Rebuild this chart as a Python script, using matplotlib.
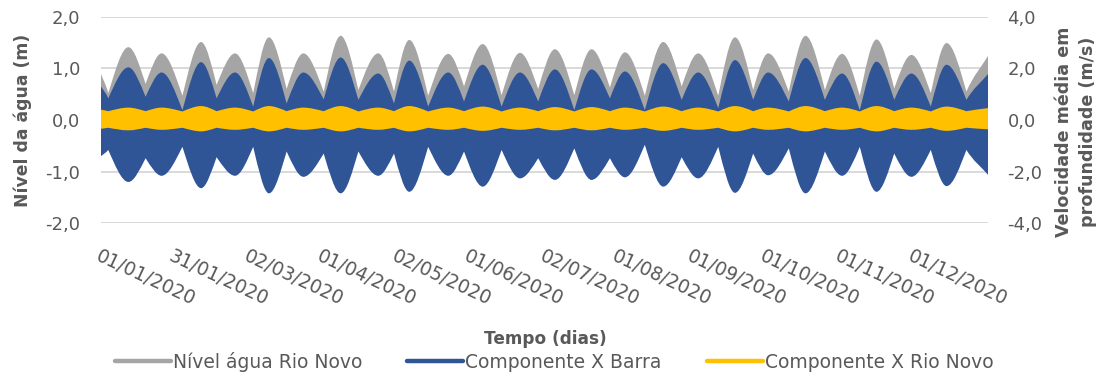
import matplotlib
matplotlib.use("Agg")
import matplotlib.pyplot as plt
from matplotlib.path import Path
from matplotlib.patches import PathPatch
from matplotlib.lines import Line2D

# Envelope of the hourly series (days since 01/01/2020): start, then alternating
# neap/spring turning points of each fortnightly cycle, then the end of the year.
dias = [0.0, 3.0, 11.3, 18.4, 25.0, 33.6, 41.3, 47.7, 55.3, 62.8, 69.3, 76.6, 83.5,
        91.9, 98.9, 106.2, 114.4, 120.9, 127.2, 135.0, 143.3, 149.8, 157.5, 165.3,
        172.9, 180.4, 187.3, 195.3, 202.4, 210.0, 216.2, 224.4, 232.0, 239.6, 246.4,
        254.7, 261.6, 269.1, 275.3, 283.8, 290.7, 298.7, 305.8, 313.1, 320.0, 327.3,
        334.4, 342.4, 348.9, 357.1, 366.0]

# Nível água Rio Novo (m): high-water envelope
nivel_max = [0.89, 0.52, 1.41, 0.70, 1.29, 0.47, 1.51, 0.68, 1.29, 0.52, 1.60, 0.60, 1.29,
             0.55, 1.63, 0.58, 1.29, 0.55, 1.55, 0.47, 1.28, 0.65, 1.47, 0.48, 1.30,
             0.60, 1.37, 0.48, 1.37, 0.63, 1.31, 0.47, 1.51, 0.65, 1.29, 0.47, 1.60,
             0.58, 1.29, 0.55, 1.63, 0.58, 1.28, 0.47, 1.56, 0.61, 1.26, 0.52, 1.49,
             0.55, 1.24]

# Componente X Barra (m/s): flood and ebb envelopes
barra_max = [1.30, 0.84, 2.04, 0.90, 1.84, 0.38, 2.24, 0.84, 1.84, 0.52, 2.40, 0.64, 1.84,
             0.80, 2.42, 0.78, 1.80, 0.64, 2.30, 0.52, 1.84, 0.72, 2.14, 0.52, 1.84,
             0.72, 1.96, 0.38, 1.96, 0.84, 1.88, 0.38, 2.20, 0.78, 1.84, 0.46, 2.32,
             0.78, 1.84, 0.72, 2.40, 0.78, 1.80, 0.38, 2.26, 0.78, 1.80, 0.52, 2.14,
             0.78, 1.78]
barra_min = [-1.40, -1.16, -2.40, -1.48, -2.16, -1.04, -2.64, -1.44, -2.16, -1.04, -2.84,
             -1.22, -2.20, -1.30, -2.84, -1.22, -2.16, -1.30, -2.78, -1.04, -2.16, -1.22,
             -2.58, -1.16, -2.26, -1.48, -2.32, -1.10, -2.32, -1.48, -2.22, -0.96, -2.58,
             -1.44, -2.26, -1.04, -2.82, -1.30, -2.14, -1.10, -2.84, -1.22, -2.16, -1.04,
             -2.78, -1.30, -2.20, -1.16, -2.56, -1.16, -2.12]

# Componente X Rio Novo (m/s): flood and ebb envelopes
rionovo_max = [0.40, 0.34, 0.48, 0.34, 0.48, 0.33, 0.54, 0.34, 0.48, 0.33, 0.54, 0.34, 0.48,
               0.34, 0.54, 0.33, 0.48, 0.34, 0.54, 0.33, 0.48, 0.34, 0.52, 0.33, 0.48,
               0.34, 0.50, 0.33, 0.50, 0.34, 0.48, 0.33, 0.52, 0.34, 0.48, 0.33, 0.54,
               0.34, 0.48, 0.33, 0.54, 0.34, 0.48, 0.33, 0.54, 0.34, 0.48, 0.33, 0.52,
               0.34, 0.46]
rionovo_min = [-0.34, -0.30, -0.40, -0.30, -0.38, -0.30, -0.44, -0.30, -0.38, -0.30, -0.44,
               -0.30, -0.38, -0.30, -0.44, -0.30, -0.38, -0.30, -0.44, -0.30, -0.38, -0.30,
               -0.42, -0.30, -0.38, -0.30, -0.40, -0.30, -0.40, -0.30, -0.38, -0.30, -0.42,
               -0.30, -0.38, -0.30, -0.44, -0.30, -0.38, -0.30, -0.44, -0.30, -0.38, -0.30,
               -0.44, -0.30, -0.38, -0.30, -0.42, -0.30, -0.36]

tick_dias = [0, 30, 61, 91, 122, 152, 183, 213, 244, 274, 305, 335]
tick_datas = ["01/01/2020", "31/01/2020", "02/03/2020", "01/04/2020", "02/05/2020",
              "01/06/2020", "02/07/2020", "01/08/2020", "01/09/2020", "01/10/2020",
              "01/11/2020", "01/12/2020"]
ticks_nivel = [-2, -1, 0, 1, 2]
ticks_vel = [-4, -2, 0, 2, 4]

CINZA = "#A5A5A5"
AZUL = "#2F5597"
AMARELO = "#FFC000"
TEXTO = "#595959"
GRADE = "#D9D9D9"

plt.rcParams["font.family"] = ["DejaVu Sans"]


def _curva(xs, ys):
    """Smooth cubic segments through the envelope nodes: rounded at the outer
    (spring) extremes, pointed at the inner (neap) ones."""
    n = len(xs)

    def tipo(i):
        if i == 0 or i == n - 1:
            return "ponta"
        a, b, c = abs(ys[i - 1]), abs(ys[i]), abs(ys[i + 1])
        if b >= a and b >= c:
            return "externo"
        if b <= a and b <= c:
            return "interno"
        return "meio"

    verts, codes = [], []
    for i in range(n - 1):
        x0, y0, x1, y1 = xs[i], ys[i], xs[i + 1], ys[i + 1]
        dx = x1 - x0
        m = (y1 - y0) / dx

        def tang(k):
            t = tipo(k)
            if t == "externo":
                return 0.0
            if t == "interno":
                return 1.4 * m
            return m

        verts += [(x0 + dx / 3, y0 + tang(i) * dx / 3),
                  (x1 - dx / 3, y1 - tang(i + 1) * dx / 3),
                  (x1, y1)]
        codes += [Path.CURVE4] * 3
    return verts, codes


def faixa(xs, topo, base):
    verts = [(xs[0], topo[0])]
    codes = [Path.MOVETO]
    v, c = _curva(xs, topo)
    verts += v
    codes += c
    if isinstance(base, (int, float)):
        verts += [(xs[-1], base), (xs[0], base)]
        codes += [Path.LINETO, Path.LINETO]
    else:
        rx, rb = xs[::-1], base[::-1]
        verts.append((rx[0], rb[0]))
        codes.append(Path.LINETO)
        v, c = _curva(rx, rb)
        verts += v
        codes += c
    verts.append(verts[0])
    codes.append(Path.CLOSEPOLY)
    return Path(verts, codes)


W, H = 1105, 374
fig = plt.figure(figsize=(W / 100, H / 100), dpi=100)
x0, x1, y_top, y_bot = 101, 988, 16.7, 223.3
ax = fig.add_axes([x0 / W, 1 - y_bot / H, (x1 - x0) / W, (y_bot - y_top) / H])
ax2 = ax.twinx()

# water level (left axis), filled from its high-water envelope down to datum
ax.add_patch(PathPatch(faixa(dias, nivel_max, 0.0), facecolor=CINZA, edgecolor="none"))
# velocities (right axis)
ax2.add_patch(PathPatch(faixa(dias, barra_max, barra_min), facecolor=AZUL, edgecolor="none"))
ax2.add_patch(PathPatch(faixa(dias, rionovo_max, rionovo_min), facecolor=AMARELO, edgecolor="none"))

ax.set_xlim(0, 366)
ax.set_ylim(-2, 2)
ax2.set_ylim(-4, 4)

ax.set_yticks(ticks_nivel)
ax.set_yticklabels([f"{v:.1f}".replace(".", ",") for v in ticks_nivel])
ax2.set_yticks(ticks_vel)
ax2.set_yticklabels([f"{v:.1f}".replace(".", ",") for v in ticks_vel])
ax.set_xticks(tick_dias)
ax.set_xticklabels(tick_datas)

ax.grid(axis="y", color=GRADE, linewidth=1.4)
ax.set_axisbelow(True)
for a in (ax, ax2):
    for s in a.spines.values():
        s.set_visible(False)

ax.tick_params(axis="y", length=0, pad=15, labelsize=13, labelcolor=TEXTO)
ax2.tick_params(axis="y", length=0, pad=14, labelsize=13, labelcolor=TEXTO)
ax.tick_params(axis="x", length=0, pad=17, labelsize=13.4, labelcolor=TEXTO)
for lab in ax.get_xticklabels():
    lab.set_rotation(-25)
    lab.set_rotation_mode("anchor")
    lab.set_ha("left")
    lab.set_va("top")

ax.set_ylabel("Nível da água (m)", fontsize=12.4, fontweight="bold", color=TEXTO)
ax.yaxis.label.set_va("center")
ax.yaxis.set_label_coords((23 - x0) / (x1 - x0), 0.5)
ax2.set_ylabel("Velocidade média em\nprofundidade (m/s)", fontsize=12.6,
               fontweight="bold", color=TEXTO, rotation=90, linespacing=1.45)
ax2.yaxis.label.set_va("center")
ax2.yaxis.label.set_ha("center")
ax2.yaxis.set_label_coords((1076 - x0) / (x1 - x0), (y_bot - 132) / (y_bot - y_top))
ax.set_xlabel("Tempo (dias)", fontsize=12.2, fontweight="bold", color=TEXTO)
ax.xaxis.label.set_va("center")
ax.xaxis.set_label_coords((545.5 - x0) / (x1 - x0), (y_bot - 339) / (y_bot - y_top))

handles = [Line2D([], [], color=CINZA, linewidth=3.2, solid_capstyle="round"),
           Line2D([], [], color=AZUL, linewidth=3.2, solid_capstyle="round"),
           Line2D([], [], color=AMARELO, linewidth=3.2, solid_capstyle="round")]
fig.legend(handles, ["Nível água Rio Novo", "Componente X Barra", "Componente X Rio Novo"],
           loc="center", bbox_to_anchor=(554 / W, 1 - 362 / H), ncol=3, frameon=False,
           handlelength=3.0, handletextpad=0.1, columnspacing=2.4, fontsize=13.5,
           labelcolor=TEXTO, borderaxespad=0, borderpad=0)

fig.savefig("out.png", dpi=100)
